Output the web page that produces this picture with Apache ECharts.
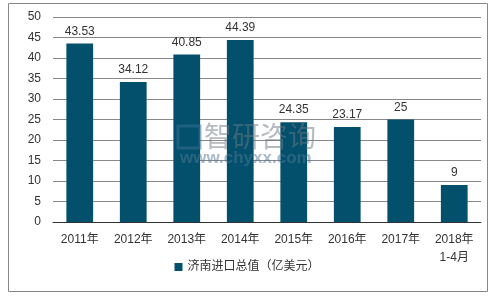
<!DOCTYPE html>
<html>
<head>
<meta charset="utf-8">
<script src="https://cdn.jsdelivr.net/npm/echarts@6/dist/echarts.min.js"></script>
<style>
html,body{margin:0;padding:0;background:#fff;}
#c{width:494px;height:298px;}
</style>
</head>
<body>
<div id="c"></div>
<script>
const categories = ['2011年','2012年','2013年','2014年','2015年','2016年','2017年','2018年\n1-4月'];
const values = [43.53, 34.12, 40.85, 44.39, 24.35, 23.17, 25, 9];
const seriesName = '济南进口总值（亿美元）';
const yTicks = {min: 0, max: 50, interval: 5};

const font = '"Liberation Sans", Arial, "Noto Sans CJK SC", sans-serif';
const chart = echarts.init(document.getElementById('c'));
chart.setOption({
  animation: false,
  textStyle: {fontFamily: font},
  graphic: [
    {type: 'rect', shape: {x: 8.5, y: 3.5, width: 479, height: 288}, style: {fill: 'none', stroke: '#888', lineWidth: 1}, z: 0},
    {type: 'rect', shape: {x: 178, y: 126, width: 22, height: 22}, style: {fill: 'none', stroke: 'rgba(60,110,150,0.5)', lineWidth: 3}, z: 100},
    {type: 'text', left: 204, top: 122, z: 100, style: {text: '智研咨询', fill: 'rgba(110,120,130,0.5)', font: '28px "Noto Sans CJK SC"'}},
    {type: 'text', left: 180, top: 150, z: 100, style: {text: 'www.chyxx.com', fill: 'rgba(80,120,150,0.5)', font: 'bold 17px "Liberation Sans"'}}
  ],
  grid: {left: 53, right: 13, top: 17, bottom: 76, containLabel: false},
  legend: {
    bottom: 20, left: 'center',
    itemWidth: 8, itemHeight: 8, itemGap: 4,
    icon: 'rect',
    textStyle: {fontSize: 12, color: '#333', fontFamily: font},
    data: [seriesName]
  },
  xAxis: {
    type: 'category',
    data: categories,
    axisLine: {lineStyle: {color: '#333', width: 1}},
    axisTick: {show: false},
    axisLabel: {fontSize: 12, color: '#333', margin: 9, lineHeight: 18, interval: 0}
  },
  yAxis: {
    type: 'value',
    min: yTicks.min, max: yTicks.max, interval: yTicks.interval,
    axisLine: {show: false},
    axisTick: {show: false},
    splitLine: {lineStyle: {color: '#888', width: 1}},
    axisLabel: {fontSize: 12, color: '#333', margin: 12}
  },
  series: [{
    name: seriesName,
    type: 'bar',
    data: values,
    barWidth: '50%',
    itemStyle: {color: '#03506C'},
    label: {show: true, position: 'top', distance: 6, fontSize: 12, color: '#333'}
  }]
});
</script>
</body>
</html>
